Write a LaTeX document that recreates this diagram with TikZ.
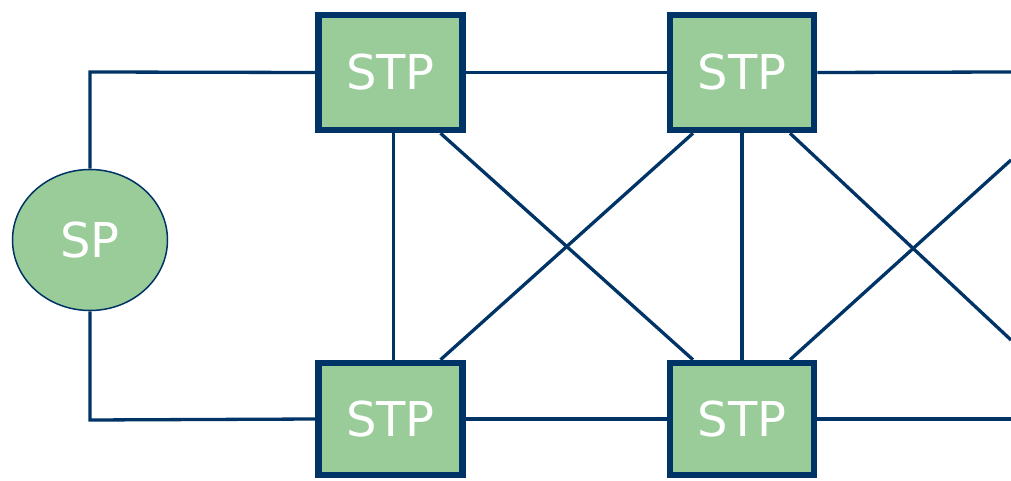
\documentclass[tikz,border=0pt]{standalone}
\usepackage{fontspec}
\setmainfont{DejaVu Sans}
\usetikzlibrary{shapes.geometric}
\definecolor{navy}{HTML}{003366}
\definecolor{leaf}{HTML}{99CC99}

\begin{document}
\begin{tikzpicture}[x=1pt,y=-1pt,
  stpbox/.style={draw=navy,line width=6.5pt,fill=leaf,minimum width=144pt,minimum height=115pt,text=white,font=\fontsize{48}{48}\selectfont},
  link/.style={draw=navy,line width=3.3pt}]
\useasboundingbox (0,0) rectangle (1011,481);
\node[stpbox] (s1) at (390.5,72.5) {STP};
\node[stpbox] (s2) at (742,72.5) {STP};
\node[stpbox,minimum height=112pt] (s3) at (390.5,419) {STP};
\node[stpbox,minimum height=112pt] (s4) at (742,419) {STP};
\node[ellipse,draw=navy,line width=1.5pt,fill=leaf,minimum width=155pt,minimum height=141pt,text=white,font=\fontsize{48}{48}\selectfont] (sp) at (90,240) {SP};
\coordinate (c1) at (90,72);
\coordinate (c2) at (90,420);
\coordinate (r1) at (1011,72);
\coordinate (r2) at (1011,419);
\coordinate (r3) at (1011,340);
\coordinate (r4) at (1011,160);
\draw[link] (sp.north) -- (c1) -- (s1.west);
\draw[link] (sp.south) -- (c2) -- (s3.west);
\draw[link] (s1.east) -- (s2.west);
\draw[link] (s3.east) -- (s4.west);
\draw[link] (s2.east) -- (r1);
\draw[link] (s4.east) -- (r2);
\draw[link] ([xshift=3pt]s1.south) -- ([xshift=3pt]s3.north);
\draw[link] (s2.south) -- (s4.north);
\draw[link] ([xshift=50pt]s1.south) -- ([xshift=-49pt]s4.north);
\draw[link] ([xshift=-49pt]s2.south) -- ([xshift=50pt]s3.north);
\draw[link] ([xshift=48pt]s2.south) -- (r3);
\draw[link] ([xshift=48pt]s4.north) -- (r4);
\end{tikzpicture}
\end{document}
